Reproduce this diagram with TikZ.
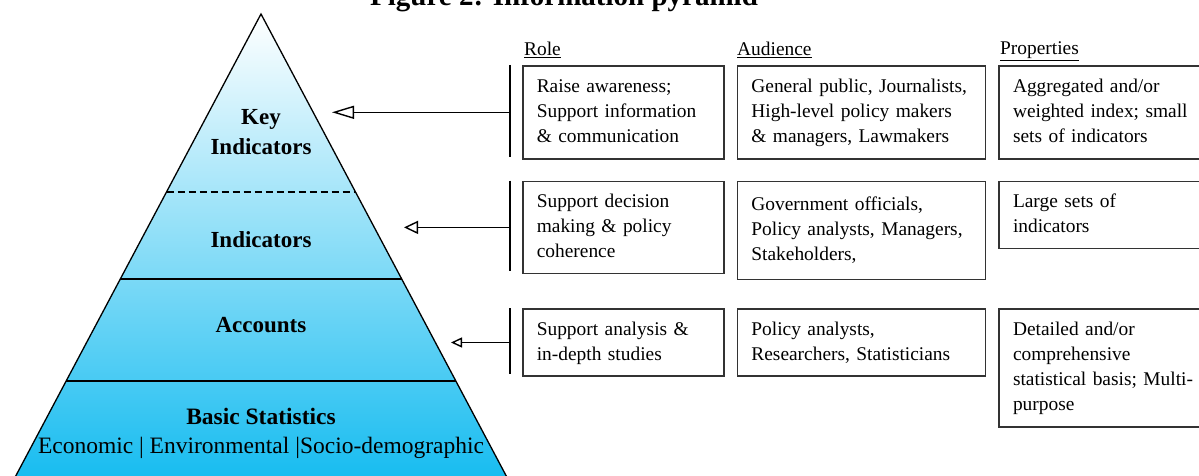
\documentclass[tikz,border=0pt]{standalone}
\usepackage{fontspec}
\setmainfont{Liberation Serif}
\usetikzlibrary{arrows.meta,positioning}
\definecolor{pyrmid}{RGB}{188,228,249}
\definecolor{pyrbottom}{RGB}{22,188,240}

\begin{document}
\begin{tikzpicture}[x=1pt,y=-1pt,
                    box node/.style={draw=black!80,line width=1.6pt,anchor=north west,align=left,
                      inner xsep=14pt,inner ysep=0pt,font=\fontsize{19.4}{25}\selectfont,
                      execute at begin node=\strut,execute at end node=\strut},
                    head node/.style={anchor=base west,inner sep=0pt,font=\fontsize{19.4}{25}\selectfont},
                    level node/.style={align=center,inner sep=0pt,font=\bfseries\fontsize{23}{30}\selectfont},
                    link/.style={line width=1.4pt}]

  \useasboundingbox (0,0) rectangle (1199,476);

  \node[anchor=base west,inner sep=0pt,font=\bfseries\fontsize{29}{30}\selectfont] (title) at (370,6) {Figure 2: Information pyramid};

  \shadedraw[top color=white,middle color=pyrmid,bottom color=pyrbottom,draw=black,line width=1.3pt]
    (261,14) -- (508.4,480) -- (13.6,480) -- cycle;
  \draw[line width=1.3pt,dash pattern=on 7pt off 4pt] (166.5,192) -- (355.5,192);
  \draw[line width=1.3pt] (120.3,279) -- (401.7,279);
  \draw[line width=1.3pt] (66.1,381) -- (455.9,381);

  \node[level node] (key) at (261,132) {Key\\Indicators};
  \node[level node,anchor=base] (ind) at (261,247) {Indicators};
  \node[level node,anchor=base] (acc) at (261,332) {Accounts};
  \node[level node,font=\fontsize{23.5}{29}\selectfont] (bas) at (261,433)
    {\textbf{Basic Statistics}\\Economic | Environmental |Socio-demographic};

  \node[head node] (role) at (524,56) {\underline{Role}};
  \node[head node] (aud) at (737,56) {\underline{Audience}};
  \node[head node] (prop) at (1000,55) {\underline{Properties}};

  \node[box node,text width=173pt,minimum height=93pt] (r1) at (522,65)
    {Raise awareness;\\Support information\\\& communication};
  \node[box node,text width=220pt,minimum height=93pt,right=12pt of r1.north east,anchor=north west] (a1)
    {General public, Journalists,\\High-level policy makers\\\& managers, Lawmakers};
  \node[box node,text width=190pt,minimum height=93pt,right=12pt of a1.north east,anchor=north west] (p1)
    {Aggregated and/or\\weighted index; small\\sets of indicators};

  \node[box node,text width=173pt,minimum height=92pt,below=21pt of r1.south west,anchor=north west] (r2)
    {Support decision\\making \& policy\\coherence};
  \node[box node,text width=220pt,minimum height=98pt,right=12pt of r2.north east,anchor=north west] (a2)
    {Government officials,\\Policy analysts, Managers,\\Stakeholders,};
  \node[box node,text width=190pt,minimum height=67pt,right=12pt of a2.north east,anchor=north west] (p2)
    {Large sets of\\indicators};

  \node[box node,text width=173pt,minimum height=67pt,below=34pt of r2.south west,anchor=north west] (r3)
    {Support analysis \&\\in-depth studies};
  \node[box node,text width=220pt,minimum height=67pt,right=12pt of r3.north east,anchor=north west] (a3)
    {Policy analysts,\\Researchers, Statisticians};
  \node[box node,text width=190pt,minimum height=118pt,right=12pt of a3.north east,anchor=north west] (p3)
    {Detailed and/or\\comprehensive\\statistical basis; Multi-\\purpose};

  \coordinate (tip1) at ([xshift=-190pt]r1.west);
  \coordinate (tip2) at ([xshift=-118pt]r2.west);
  \coordinate (tip3) at ([xshift=-71pt]r3.west);

  \draw[link] ([xshift=-12pt]r1.north west) -- ([xshift=-12pt,yshift=3pt]r1.south west);
  \draw[link] ([xshift=-12pt]r2.north west) -- ([xshift=-12pt,yshift=3pt]r2.south west);
  \draw[link] ([xshift=-12pt]r3.north west) -- ([xshift=-12pt,yshift=3pt]r3.south west);

  \draw[link,-{Triangle[open,length=22pt,width=13pt]}] ([xshift=-12pt]r1.west) -- (tip1);
  \draw[link,-{Triangle[open,length=14pt,width=13pt]}] ([xshift=-12pt]r2.west) -- (tip2);
  \draw[link,-{Triangle[open,length=11pt,width=10pt]}] ([xshift=-12pt]r3.west) -- (tip3);
\end{tikzpicture}
\end{document}
